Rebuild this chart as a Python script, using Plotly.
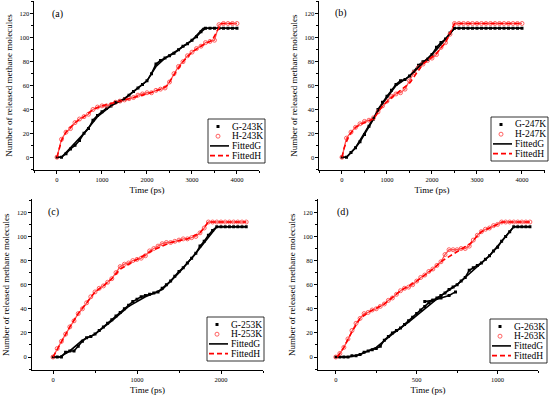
import plotly.graph_objects as go

FIG_W, FIG_H = 550, 399

temps = ["243K", "247K", "253K", "263K"]
panel_labels = ["(a)", "(b)", "(c)", "(d)"]

# ---------------- (a) 243 K ----------------
time_a = list(range(0, 4001, 100))
g_a = [0, 0, 3, 7, 10, 14, 20, 24, 31, 35, 38, 41, 43, 46, 47, 49, 52, 55, 58, 61,
       64, 70, 78, 81, 83, 85, 87, 90, 93, 95, 98, 101, 105, 108, 108, 108, 108, 108, 108, 108, 108]
h_a = [0, 15, 21, 24, 29, 32, 34, 36, 40, 42, 43, 43, 44, 46, 47, 48, 49, 50, 52, 53,
       54, 54, 56, 57, 58, 63, 70, 76, 80, 85, 88, 91, 93, 96, 97, 98, 111, 112, 112, 112, 112]
fitg_time_a = [0, 100, 300, 600, 900, 1200, 1500, 1800, 2000, 2200, 2400, 2700, 3000, 3250, 4000]
fitg_a = [0, 0, 8, 20, 34, 43, 49, 58, 64, 76, 83, 90, 98, 108, 108]
fith_time_a = [0, 100, 200, 400, 600, 800, 1000, 1300, 1600, 2000, 2300, 2450, 2600, 2800, 3000,
               3200, 3450, 3550, 3650, 4000]
fith_a = [0, 14, 21, 29, 34, 40, 43, 46, 49, 53, 57, 60, 69, 80, 88, 93, 98, 105, 112, 112]

# ---------------- (b) 247 K ----------------
time_b = list(range(0, 4001, 100))
g_b = [0, 0, 4, 8, 13, 19, 26, 32, 40, 46, 51, 56, 61, 64, 65, 68, 72, 77, 80, 82,
       86, 92, 96, 99, 104] + [108] * 16
h_b = [0, 16, 21, 25, 28, 30, 31, 33, 38, 43, 47, 51, 53, 54, 57, 64, 71, 75, 78, 81,
       83, 86, 92, 96, 103, 112] + [112] * 15
fitg_time_b = [0, 100, 300, 600, 900, 1200, 1500, 1800, 2100, 2500, 4000]
fitg_b = [0, 0, 8, 26, 45, 60, 68, 79, 90, 108, 108]
fith_time_b = [0, 50, 150, 300, 500, 700, 900, 1200, 1500, 1800, 2100, 2300, 2500, 4000]
fith_b = [0, 8, 18, 25, 29, 32, 43, 53, 62, 78, 87, 96, 112, 112]

# ---------------- (c) 253 K ----------------
time_c = list(range(0, 2301, 50))
g_c = [0, 0, 0, 4, 5, 5, 9, 13, 16, 17, 19, 22, 25, 28, 31, 34, 37, 40, 43, 46,
       48, 50, 51, 52, 53, 54, 57, 60, 63, 67, 71, 74, 78, 82, 86, 92, 96, 101, 105, 108] + [108] * 7
h_c = [0, 7, 13, 19, 25, 30, 36, 40, 45, 50, 54, 57, 59, 62, 65, 70, 75, 77, 78, 80,
       81, 82, 84, 88, 90, 92, 94, 95, 95, 96, 97, 98, 98, 99, 100, 103, 107, 112] + [112] * 9
fitg_time_c = [0, 80, 200, 350, 500, 700, 900, 1100, 1300, 1500, 1700, 1950, 2300]
fitg_c = [0, 0, 5, 14, 19, 30, 42, 50, 56, 70, 86, 108, 108]
fith_time_c = [0, 100, 200, 300, 400, 500, 600, 700, 800, 1000, 1200, 1400, 1600, 1750, 1850, 2300]
fith_c = [0, 13, 25, 36, 45, 54, 59, 65, 73, 81, 89, 95, 98, 103, 112, 112]

# ---------------- (d) 263 K ----------------
time_d = list(range(0, 1201, 25))
g_d = [0, 0, 0, 0, 1, 1, 2, 4, 5, 6, 7, 9, 14, 17, 20, 22, 24, 27, 30, 33,
       36, 39, 42, 45, 47, 49, 51, 53, 56, 58, 60, 63, 66, 72, 74, 76, 78, 81, 84, 88,
       91, 96, 100, 104, 108] + [108] * 4
g_d_extra_time = [550, 600, 650, 700, 740]
g_d_extra = [46, 47, 49, 51, 54]
h_d = [0, 3, 8, 15, 22, 28, 32, 36, 37, 39, 40, 42, 44, 47, 49, 52, 55, 57, 58, 60,
       63, 66, 68, 71, 73, 76, 79, 85, 89, 89, 89, 90, 90, 92, 97, 101, 104, 106, 107, 109,
       110, 112] + [112] * 7
fitg_time_d = [10, 80, 150, 250, 350, 450, 550, 650, 750, 850, 950, 1050, 1100, 1200]
fitg_d = [0, 0, 2, 8, 19, 29, 40, 51, 60, 72, 84, 100, 108, 108]
fith_time_d = [10, 50, 100, 150, 200, 300, 400, 500, 600, 660, 830, 900, 950, 1000, 1030, 1200]
fith_d = [0, 8, 21, 32, 37, 44, 55, 63, 73, 80, 94, 104, 107, 110, 112, 112]

panels = [
    dict(gt=time_a, g=g_a, ht=time_a, h=h_a, fgt=fitg_time_a, fg=fitg_a, fht=fith_time_a, fh=fith_a),
    dict(gt=time_b, g=g_b, ht=time_b, h=h_b, fgt=fitg_time_b, fg=fitg_b, fht=fith_time_b, fh=fith_b),
    dict(gt=time_c, g=g_c, ht=time_c, h=h_c, fgt=fitg_time_c, fg=fitg_c, fht=fith_time_c, fh=fith_c),
    dict(gt=time_d, g=g_d, ht=time_d, h=h_d, fgt=fitg_time_d, fg=fitg_d, fht=fith_time_d, fh=fith_d,
         xt=g_d_extra_time, x=g_d_extra),
]

# layout geometry
xdom = [(0.0627, 0.4718), (0.5809, 0.99), (0.0582, 0.4782), (0.5782, 0.9782)]
ydom = [(0.573, 0.998), (0.573, 0.998), (0.072, 0.501), (0.072, 0.501)]
xrng = [(-500, 4500), (-500, 4500), (-250, 2500), (-110, 1250)]
xdt = [1000, 1000, 1000, 500]
legend_box = [(208, 119), (491, 117), (207, 317), (490, 319)]
label_pos = [(50, 14), (333, 13), (46, 212), (335, 212)]

FONT = "Liberation Serif, Times New Roman, serif"
BLACK = "#000000"
RED = "#ff0000"
HRED = "rgb(255,80,80)"

fig = go.Figure()
layout = dict(width=FIG_W, height=FIG_H, margin=dict(l=0, r=0, t=0, b=0),
              paper_bgcolor="white", plot_bgcolor="white", showlegend=False,
              font=dict(family=FONT, color="black"))
shapes, annotations = [], []

for i, p in enumerate(panels):
    sfx = "" if i == 0 else str(i + 1)
    xa, ya = "x" + sfx, "y" + sfx
    # connectors (thin lines through the sampled data so the dense band reads continuous)
    fig.add_trace(go.Scatter(x=p["gt"], y=p["g"], mode="lines", xaxis=xa, yaxis=ya,
                             line=dict(color=BLACK, width=1.6), hoverinfo="skip"))
    if "xt" in p:
        fig.add_trace(go.Scatter(x=p["xt"], y=p["x"], mode="lines+markers", xaxis=xa, yaxis=ya,
                                 line=dict(color=BLACK, width=1.6),
                                 marker=dict(symbol="square", size=3, color=BLACK)))
    fig.add_trace(go.Scatter(x=p["ht"], y=p["h"], mode="lines", xaxis=xa, yaxis=ya,
                             line=dict(color=HRED, width=1.3), hoverinfo="skip"))
    fig.add_trace(go.Scatter(x=p["gt"], y=p["g"], mode="markers", name="G-" + temps[i],
                             xaxis=xa, yaxis=ya,
                             marker=dict(symbol="square", size=3, color=BLACK)))
    fig.add_trace(go.Scatter(x=p["ht"], y=p["h"], mode="markers", name="H-" + temps[i],
                             xaxis=xa, yaxis=ya,
                             marker=dict(symbol="circle-open", size=4, color=HRED,
                                         line=dict(width=0.9, color=HRED))))
    fig.add_trace(go.Scatter(x=p["fgt"], y=p["fg"], mode="lines", name="FittedG",
                             xaxis=xa, yaxis=ya, line=dict(color=BLACK, width=1.6)))
    fig.add_trace(go.Scatter(x=p["fht"], y=p["fh"], mode="lines", name="FittedH",
                             xaxis=xa, yaxis=ya, line=dict(color=RED, width=1.6, dash="5px,3px")))

    axcommon = dict(showgrid=False, zeroline=False, showline=True, linecolor="black",
                    linewidth=1, ticks="outside", ticklen=3, tickwidth=1, tickcolor="black",
                    tickfont=dict(size=6.5, family=FONT), automargin=False,
                    minor=dict(ticks="outside", ticklen=2, tickwidth=1, tickcolor="black"))
    layout["xaxis" + sfx] = dict(axcommon, domain=list(xdom[i]), range=list(xrng[i]),
                                 anchor=ya, dtick=xdt[i], tick0=0,
                                 minor=dict(axcommon["minor"], dtick=xdt[i] / 2, tick0=0),
                                 title=dict(text="Time (ps)", font=dict(size=9, family=FONT),
                                            standoff=4))
    layout["yaxis" + sfx] = dict(axcommon, domain=list(ydom[i]), range=[-11, 131],
                                 anchor=xa, dtick=20, tick0=0,
                                 minor=dict(axcommon["minor"], dtick=10, tick0=0),
                                 title=dict(text="Number of released methane molecules",
                                            font=dict(size=9, family=FONT), standoff=5))

    # panel label
    lx, ly = label_pos[i]
    annotations.append(dict(text=panel_labels[i], x=lx / FIG_W, y=1 - ly / FIG_H, xref="paper",
                            yref="paper", xanchor="left", yanchor="middle", showarrow=False,
                            font=dict(size=10, family=FONT)))

    # legend box (drawn by hand so rows can be as tight as the original)
    L, T = legend_box[i]
    BW, BH = 57, 44
    shapes.append(dict(type="rect", xref="paper", yref="paper", x0=L / FIG_W, x1=(L + BW) / FIG_W,
                       y0=1 - T / FIG_H, y1=1 - (T + BH) / FIG_H,
                       line=dict(color="black", width=0.8), fillcolor="white", layer="above"))
    rows = [T + 7.5 + k * 9.7 for k in range(4)]
    names = ["G-" + temps[i], "H-" + temps[i], "FittedG", "FittedH"]
    cx = L + 10
    # square
    shapes.append(dict(type="rect", xref="paper", yref="paper",
                       x0=(cx - 1.5) / FIG_W, x1=(cx + 1.5) / FIG_W,
                       y0=1 - (rows[0] - 1.5) / FIG_H, y1=1 - (rows[0] + 1.5) / FIG_H,
                       fillcolor=BLACK, line=dict(width=0)))
    # open circle
    shapes.append(dict(type="circle", xref="paper", yref="paper",
                       x0=(cx - 2) / FIG_W, x1=(cx + 2) / FIG_W,
                       y0=1 - (rows[1] - 2) / FIG_H, y1=1 - (rows[1] + 2) / FIG_H,
                       line=dict(color=HRED, width=0.9)))
    shapes.append(dict(type="line", xref="paper", yref="paper", x0=(L + 2) / FIG_W,
                       x1=(L + 21) / FIG_W, y0=1 - rows[2] / FIG_H, y1=1 - rows[2] / FIG_H,
                       line=dict(color=BLACK, width=1.6)))
    shapes.append(dict(type="line", xref="paper", yref="paper", x0=(L + 2) / FIG_W,
                       x1=(L + 21) / FIG_W, y0=1 - rows[3] / FIG_H, y1=1 - rows[3] / FIG_H,
                       line=dict(color=RED, width=1.6, dash="5px,3px")))
    for k in range(4):
        annotations.append(dict(text=names[k], x=(L + 22) / FIG_W, y=1 - rows[k] / FIG_H,
                                xref="paper", yref="paper", xanchor="left", yanchor="middle",
                                showarrow=False, font=dict(size=9.5, family=FONT)))

layout["shapes"] = shapes
layout["annotations"] = annotations
fig.update_layout(**layout)
fig.write_html("out.html", config={"displayModeBar": False},
               post_script="document.body.style.margin='0px';document.body.style.padding='0px';")
